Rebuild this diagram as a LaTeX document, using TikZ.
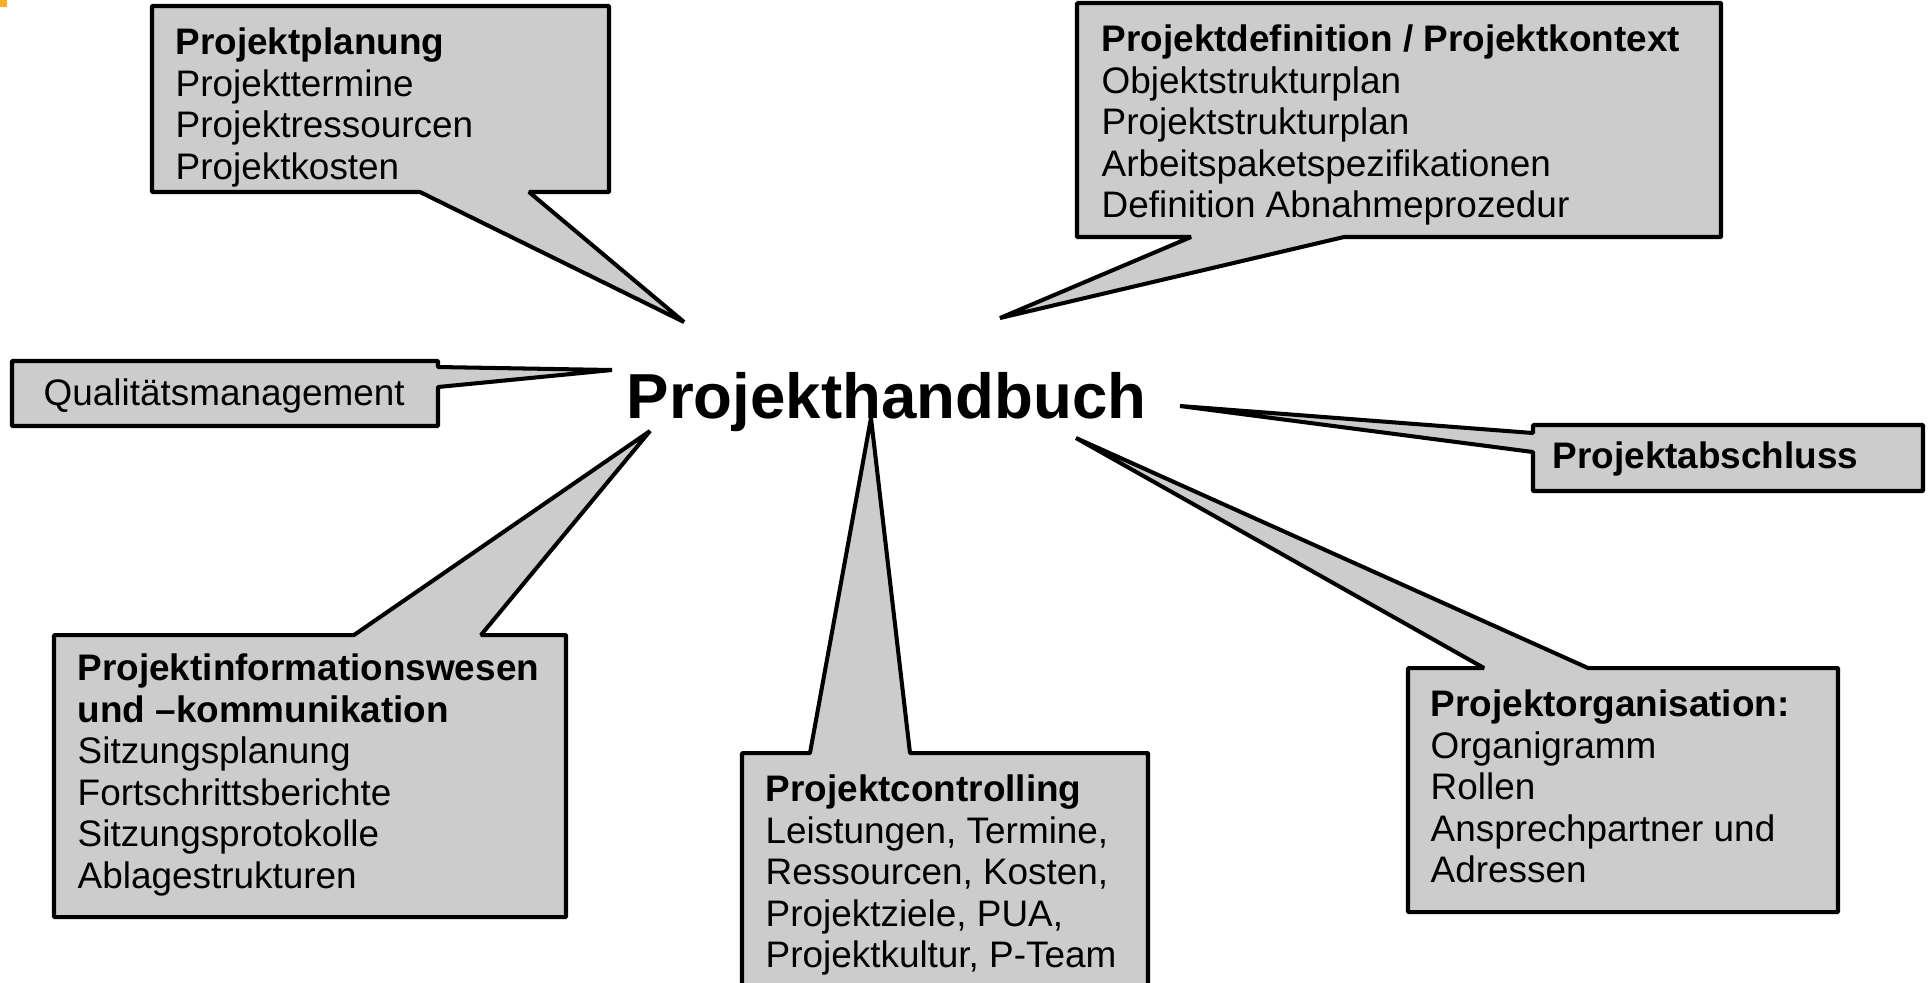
\documentclass[tikz,border=0pt]{standalone}
\usepackage{fontspec}
\setmainfont{Liberation Sans}
\definecolor{bubblegray}{RGB}{204,204,204}
\definecolor{cornerorange}{RGB}{247,175,40}
\tikzset{
  bubble/.style={draw=black, fill=bubblegray, line width=1.15pt, line join=bevel},
  boxtext/.style={anchor=north west, align=left, inner sep=0pt,
    font=\fontsize{10.5}{11.83}\selectfont},
}
\begin{document}
\begin{tikzpicture}[x=0.1mm, y=-0.1mm]
  \clip (0,0) rectangle (1931,982);
  \fill[cornerorange] (0,0) rectangle (7,7);
  % tips near the title
  \coordinate (planungtip) at (684,322);
  \coordinate (definitiontip) at (1000,318);
  \coordinate (qualitaettip) at (612,370);
  \coordinate (abschlusstip) at (1180,406);
  \coordinate (organisationtip) at (1076,438);
  \coordinate (infotip) at (650,431);
  \coordinate (controllingtip) at (871,418);
  % callouts
  \draw[bubble] (152,6) -- (609,6) -- (609,192) -- (529,192) -- (planungtip)
    -- (420,192) -- (152,192) -- cycle;
  \draw[bubble] (1077,3) -- (1721,3) -- (1721,237) -- (1344,237) -- (definitiontip)
    -- (1191,237) -- (1077,237) -- cycle;
  \draw[bubble] (12,361) -- (438,361) -- (438,367) -- (qualitaettip)
    -- (438,387) -- (438,426) -- (12,426) -- cycle;
  \draw[bubble] (1533,425) -- (1923,425) -- (1923,491) -- (1533,491) -- (1533,452)
    -- (abschlusstip) -- (1533,433) -- cycle;
  \draw[bubble] (1408,668) -- (1484,668) -- (organisationtip) -- (1588,668)
    -- (1838,668) -- (1838,912) -- (1408,912) -- cycle;
  \draw[bubble] (54,635) -- (354,635) -- (infotip) -- (481,635) -- (566,635)
    -- (566,917) -- (54,917) -- cycle;
  \draw[bubble] (742,753) -- (810,753) -- (controllingtip) -- (910,753) -- (1148,753)
    -- (1148,1020) -- (742,1020) -- cycle;
  % texts
  \node[boxtext] (planung) at (175,27)
    {\textbf{Projektplanung}\\Projekttermine\\Projektressourcen\\Projektkosten};
  \node[boxtext] (definition) at (1101,24)
    {\textbf{Projektdefinition / Projektkontext}\\Objektstrukturplan\\Projektstrukturplan\\
     Arbeitspaketspezifikationen\\Definition Abnahmeprozedur};
  \node[boxtext] (qualitaet) at (43,378) {Qualitätsmanagement};
  \node[boxtext] (abschluss) at (1552,441) {\textbf{Projektabschluss}};
  \node[boxtext] (organisation) at (1430,689)
    {\textbf{Projektorganisation:}\\Organigramm\\Rollen\\Ansprechpartner und\\Adressen};
  \node[boxtext] (info) at (77,653)
    {\textbf{Projektinformationswesen}\\\textbf{und –kommunikation}\\Sitzungsplanung\\
     Fortschrittsberichte\\Sitzungsprotokolle\\Ablagestrukturen};
  \node[boxtext] (controlling) at (765,774)
    {\textbf{Projektcontrolling}\\Leistungen, Termine,\\Ressourcen, Kosten,\\
     Projektziele, PUA,\\Projektkultur, P-Team};
  \node[anchor=base west, inner sep=0pt, font=\fontsize{18.1}{21}\selectfont\bfseries]
    (handbuch) at (626,418) {Projekthandbuch};
\end{tikzpicture}
\end{document}
